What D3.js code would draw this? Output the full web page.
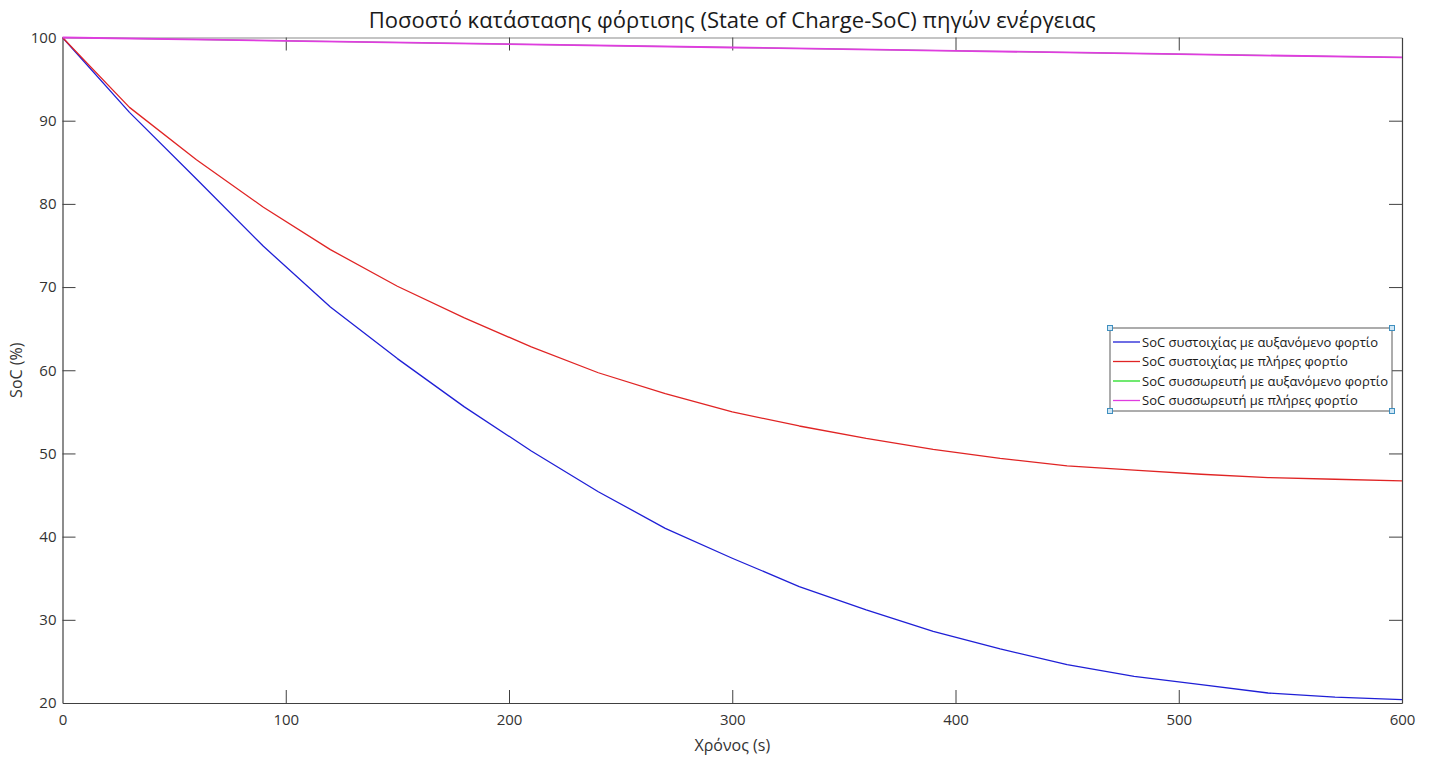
<!DOCTYPE html>
<html>
<head>
<meta charset="utf-8">
<script src="https://cdn.jsdelivr.net/npm/d3@7"></script>
<style>
  html, body { margin: 0; padding: 0; background: #ffffff; }
  svg { display: block; font-family: "Open Sans", "Noto Sans", sans-serif; }
</style>
</head>
<body>
<svg id="chart" width="1432" height="758"></svg>
<script>
// Time samples (s) for the battery-pack simulations
const timeSteps = [0, 30, 60, 90, 120, 150, 180, 210, 240, 270, 300, 330, 360, 390, 420, 450, 480, 510, 540, 570, 600];
// SoC of the battery pack with increasing load (%)
const socPackIncreasing = [100, 91.0, 83.0, 74.9, 67.6, 61.4, 55.6, 50.3, 45.4, 41.0, 37.4, 34.0, 31.2, 28.6, 26.5, 24.6, 23.2, 22.2, 21.2, 20.7, 20.4];
// SoC of the battery pack with full load (%)
const socPackFull = [100, 91.6, 85.3, 79.6, 74.5, 70.1, 66.3, 62.8, 59.7, 57.2, 55.0, 53.3, 51.8, 50.5, 49.4, 48.5, 48.0, 47.5, 47.1, 46.9, 46.7];
// Time samples (s) for the accumulator simulations
const timeStepsAcc = [0, 100, 200, 300, 400, 500, 600];
// SoC of the accumulator with increasing load (%)
const socAccIncreasing = [100, 99.6, 99.2, 98.8, 98.4, 98.0, 97.6];
// SoC of the accumulator with full load (%)
const socAccFull = [100, 99.6, 99.2, 98.8, 98.4, 98.0, 97.6];

const xTicks = [0, 100, 200, 300, 400, 500, 600];
const yTicks = [20, 30, 40, 50, 60, 70, 80, 90, 100];

const series = [
  { label: "SoC συστοιχίας με αυξανόμενο φορτίο", x: timeSteps, y: socPackIncreasing, color: "#1f1fd6", width: 1.3 },
  { label: "SoC συστοιχίας με πλήρες φορτίο", x: timeSteps, y: socPackFull, color: "#e02424", width: 1.3 },
  { label: "SoC συσσωρευτή με αυξανόμενο φορτίο", x: timeStepsAcc, y: socAccIncreasing, color: "#22dd22", width: 1.0 },
  { label: "SoC συσσωρευτή με πλήρες φορτίο", x: timeStepsAcc, y: socAccFull, color: "#e03ce0", width: 1.8 }
];

(function draw() {
  const svg = d3.select("#chart");
  const pL = 62.5, pR = 1402, pT = 37.5, pB = 703;

  const x = d3.scaleLinear().domain([0, 600]).range([pL, pR]);
  const y = d3.scaleLinear().domain([20, 100]).range([pB, pT]);

  const axisColor = "#404040";
  const tickLen = 13;

  // Axes with inward ticks on all four sides
  const gx = svg.append("g").attr("transform", `translate(0,${pB})`)
    .call(d3.axisBottom(x).tickValues(xTicks).tickSizeInner(-tickLen).tickSizeOuter(0).tickPadding(11));
  const gxTop = svg.append("g").attr("transform", `translate(0,${pT})`)
    .call(d3.axisTop(x).tickValues(xTicks).tickSizeInner(-tickLen).tickSizeOuter(0).tickFormat(""));
  const gy = svg.append("g").attr("transform", `translate(${pL},0)`)
    .call(d3.axisLeft(y).tickValues(yTicks).tickSizeInner(-tickLen).tickSizeOuter(0).tickPadding(6));
  const gyRight = svg.append("g").attr("transform", `translate(${pR},0)`)
    .call(d3.axisRight(y).tickValues(yTicks).tickSizeInner(-tickLen).tickSizeOuter(0).tickFormat(""));

  [gx, gxTop, gy, gyRight].forEach(g => {
    g.selectAll(".domain").attr("stroke", axisColor).attr("stroke-width", 1.2);
    g.selectAll(".tick line").attr("stroke", axisColor).attr("stroke-width", 1);
    g.selectAll(".tick text").attr("fill", "#333").attr("font-size", 15)
      .attr("font-family", "'Open Sans', 'Noto Sans', sans-serif");
  });
  gxTop.select(".domain").attr("stroke", "#8a8a8a");
  // No tick marks at the box corners
  gx.selectAll(".tick line").filter(d => d === 0 || d === 600).remove();
  gxTop.selectAll(".tick line").filter(d => d === 0 || d === 600).remove();
  gy.selectAll(".tick line").filter(d => d === 20 || d === 100).remove();
  gyRight.selectAll(".tick line").filter(d => d === 20 || d === 100).remove();

  // Data lines
  const plot = svg.append("g");
  series.forEach(s => {
    const pts = s.x.map((t, i) => [t, s.y[i]]);
    plot.append("path")
      .datum(pts)
      .attr("fill", "none")
      .attr("stroke", s.color)
      .attr("stroke-width", s.width)
      .attr("stroke-linejoin", "round")
      .attr("d", d3.line().x(d => x(d[0])).y(d => y(d[1])));
  });

  // Title
  svg.append("text")
    .attr("x", (pL + pR) / 2).attr("y", 28)
    .attr("text-anchor", "middle")
    .attr("font-size", 22).attr("fill", "#1a1a1a")
    .text("Ποσοστό κατάστασης φόρτισης (State of Charge-SoC) πηγών ενέργειας");

  // Axis titles
  svg.append("text")
    .attr("x", (pL + pR) / 2).attr("y", 751)
    .attr("text-anchor", "middle")
    .attr("font-size", 16).attr("fill", "#333")
    .text("Χρόνος (s)");
  svg.append("text")
    .attr("transform", `translate(22,${(pT + pB) / 2}) rotate(-90)`)
    .attr("text-anchor", "middle")
    .attr("font-size", 16).attr("fill", "#333")
    .text("SoC (%)");

  // Legend
  const lg = { x0: 1110, y0: 328, w: 282, h: 83 };
  const legend = svg.append("g");
  legend.append("rect")
    .attr("x", lg.x0).attr("y", lg.y0).attr("width", lg.w).attr("height", lg.h)
    .attr("fill", "#fff").attr("stroke", "#5a5a5a").attr("stroke-width", 1);
  series.forEach((s, i) => {
    const ry = lg.y0 + 14 + i * 19.5;
    legend.append("line")
      .attr("x1", lg.x0 + 3).attr("x2", lg.x0 + 30)
      .attr("y1", ry).attr("y2", ry)
      .attr("stroke", s.color).attr("stroke-width", 1.3);
    legend.append("text")
      .attr("x", lg.x0 + 32).attr("y", ry + 4.5)
      .attr("font-size", 13).attr("fill", "#1a1a1a")
      .text(s.label);
  });
  // Selection handles on the legend corners
  [[lg.x0, lg.y0], [lg.x0 + lg.w, lg.y0], [lg.x0, lg.y0 + lg.h], [lg.x0 + lg.w, lg.y0 + lg.h]].forEach(([cx, cy]) => {
    legend.append("rect")
      .attr("x", cx - 2.5).attr("y", cy - 2.5).attr("width", 5).attr("height", 5)
      .attr("fill", "#cfe6f5").attr("stroke", "#3f8fbf").attr("stroke-width", 1);
  });
})();
</script>
</body>
</html>
